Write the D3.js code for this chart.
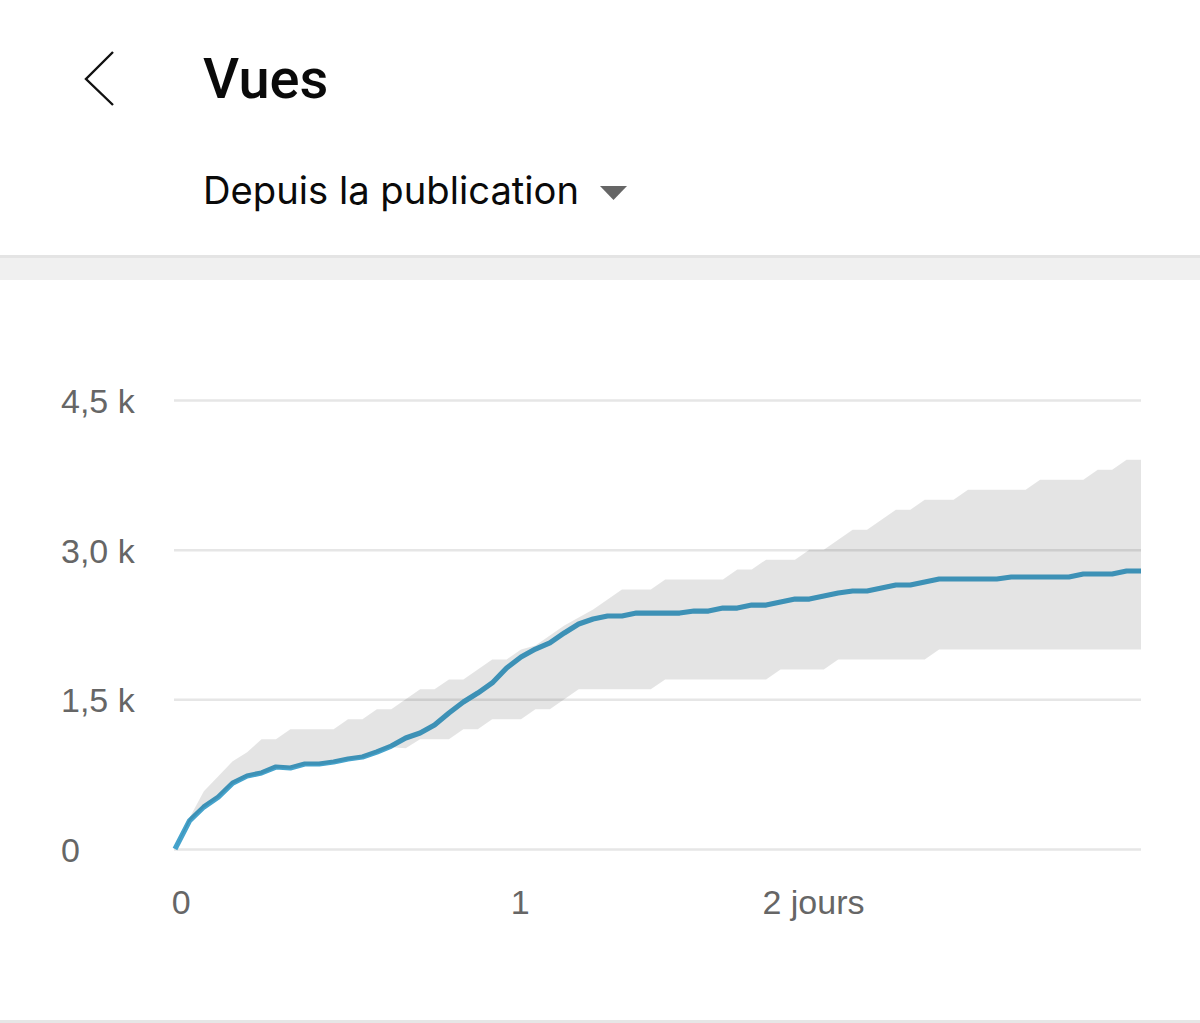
<!DOCTYPE html>
<html lang="fr">
<head>
<meta charset="utf-8">
<title>Vues</title>
<script src="https://cdn.jsdelivr.net/npm/d3@7"></script>
<style>
  html, body { margin: 0; padding: 0; background: #fff; }
  svg { display: block; font-family: Inter, sans-serif; }
</style>
</head>
<body>
<svg id="chart" width="1200" height="1023"></svg>
<script>
// Helper variables
const titleText = "Vues";
const periodText = "Depuis la publication";

// One sample per step of the curve
const views = [0, 281, 421, 521, 661, 732, 762, 822, 812, 852, 852, 872, 902, 922, 972, 1032, 1112, 1163, 1243, 1363, 1473, 1563, 1664, 1814, 1924, 2004, 2065, 2165, 2255, 2305, 2335, 2335, 2365, 2365, 2365, 2365, 2385, 2385, 2415, 2415, 2445, 2445, 2475, 2505, 2505, 2536, 2566, 2586, 2586, 2616, 2646, 2646, 2676, 2706, 2706, 2706, 2706, 2706, 2726, 2726, 2726, 2726, 2726, 2756, 2756, 2756, 2786, 2786];
const bandHigh = [0, 310, 580, 730, 880, 970, 1100, 1100, 1200, 1200, 1200, 1200, 1300, 1300, 1400, 1400, 1500, 1600, 1600, 1700, 1700, 1800, 1900, 1900, 2000, 2040, 2140, 2240, 2320, 2400, 2500, 2600, 2600, 2600, 2700, 2700, 2700, 2700, 2700, 2800, 2800, 2900, 2900, 2900, 3000, 3000, 3100, 3200, 3200, 3300, 3400, 3400, 3500, 3500, 3500, 3600, 3600, 3600, 3600, 3600, 3700, 3700, 3700, 3700, 3800, 3800, 3900, 3900];
const bandLow = [0, 270, 410, 510, 650, 720, 750, 810, 805, 840, 840, 860, 890, 910, 960, 1020, 1010, 1100, 1100, 1100, 1200, 1200, 1300, 1300, 1300, 1400, 1400, 1500, 1600, 1600, 1600, 1600, 1600, 1600, 1700, 1700, 1700, 1700, 1700, 1700, 1700, 1700, 1800, 1800, 1800, 1800, 1900, 1900, 1900, 1900, 1900, 1900, 1900, 2000, 2000, 2000, 2000, 2000, 2000, 2000, 2000, 2000, 2000, 2000, 2000, 2000, 2000, 2000];

const yTicks = [0, 1500, 3000, 4500];
const yTickLabels = ["0", "1,5 k", "3,0 k", "4,5 k"];
const xTicks = [0.4, 23.9, 44.25];
const xTickLabels = ["0", "1", "2 jours"];

const svg = d3.select("#chart");

const margin = { top: 400, right: 59, bottom: 174, left: 175 };
const svgWidth = 1200;
const svgHeight = 1023;

const xScale = d3.scaleLinear()
    .domain([0, views.length - 1])
    .range([margin.left, svgWidth - margin.right]);

const yScale = d3.scaleLinear()
    .domain([0, 4500])
    .range([svgHeight - margin.bottom, margin.top]);

// Bande grise sous l'en-tete et filet du bas
svg.append("rect").attr("x", 0).attr("y", 255).attr("width", svgWidth).attr("height", 25).attr("fill", "#f0f0f0");
svg.append("rect").attr("x", 0).attr("y", 255).attr("width", svgWidth).attr("height", 3).attr("fill", "#e4e4e4");
svg.append("rect").attr("x", 0).attr("y", 1020).attr("width", svgWidth).attr("height", 3).attr("fill", "#e6e6e6");

// En-tete
svg.append("path")
    .attr("d", "M113,52 L86,79 L113,105")
    .attr("fill", "none")
    .attr("stroke", "#111")
    .attr("stroke-width", 2.4);

svg.append("text")
    .attr("x", 203)
    .attr("y", 98)
    .attr("font-family", "Roboto, sans-serif")
    .attr("font-size", 56)
    .attr("font-weight", 500)
    .attr("fill", "#0a0a0a")
    .text(titleText);

svg.append("text")
    .attr("x", 203)
    .attr("y", 204)
    .attr("font-size", 38.2)
    .attr("fill", "#0a0a0a")
    .text(periodText);

svg.append("path")
    .attr("d", "M600,186 L627,186 L613.5,200 Z")
    .attr("fill", "#666");

// Axes
const yAxis = d3.axisLeft(yScale)
    .tickValues(yTicks)
    .tickFormat((d, i) => yTickLabels[i])
    .tickSize(-(svgWidth - margin.right - margin.left + 1));

const yGroup = svg.append("g")
    .attr("transform", `translate(${margin.left - 1},0)`)
    .call(yAxis);

yGroup.select(".domain").remove();
yGroup.selectAll(".tick line")
    .attr("stroke", "#e6e6e6")
    .attr("stroke-width", 2.5);
yGroup.selectAll(".tick text")
    .attr("x", -113)
    .attr("dy", "0.37em")
    .attr("text-anchor", "start")
    .attr("font-size", 34)
    .attr("fill", "#666");

const xAxis = d3.axisBottom(xScale)
    .tickValues(xTicks)
    .tickFormat((d, i) => xTickLabels[i])
    .tickSize(0)
    .tickPadding(41);

const xGroup = svg.append("g")
    .attr("transform", `translate(0,${yScale(0)})`)
    .call(xAxis);

xGroup.select(".domain").remove();
xGroup.selectAll(".tick text")
    .attr("font-size", 34)
    .attr("fill", "#666");

// Courbe, puis bande par-dessus (la bande assombrit la courbe et la grille)
const line = d3.line()
    .x((d, i) => xScale(i))
    .y(d => yScale(d));

svg.append("path")
    .datum(views)
    .attr("fill", "none")
    .attr("stroke", "#45a3cc")
    .attr("stroke-width", 5.2)
    .attr("stroke-linejoin", "round")
    .attr("d", line);

const area = d3.area()
    .x((d, i) => xScale(i))
    .y0((d, i) => yScale(bandLow[i]))
    .y1(d => yScale(d));

svg.append("path")
    .datum(bandHigh)
    .attr("fill", "#000")
    .attr("fill-opacity", 0.105)
    .attr("d", area);
</script>
</body>
</html>
